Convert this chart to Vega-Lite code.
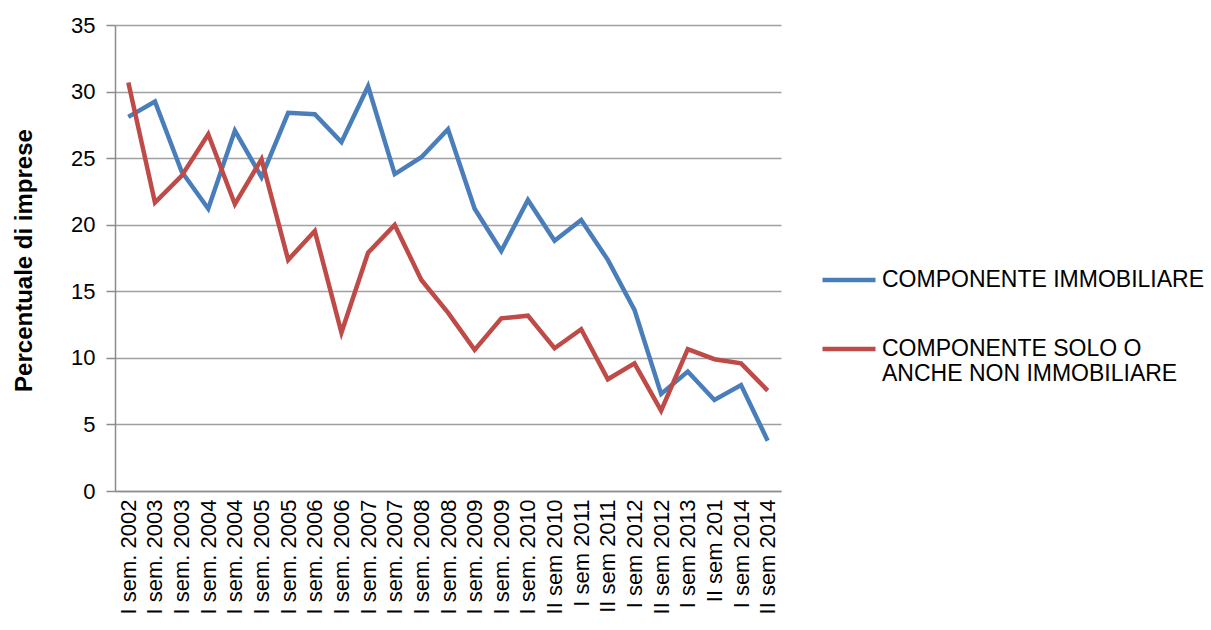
{
  "$schema": "https://vega.github.io/schema/vega-lite/v6.json",
  "width": 666,
  "height": 466,
  "autosize": {"type": "none"},
  "padding": {"left": 115, "top": 25, "right": 430, "bottom": 139},
  "background": "white",
  "config": {
    "font": "Liberation Sans",
    "view": {"stroke": null}
  },
  "data": {
    "values": [
      {"t": 1, "serie": "COMPONENTE IMMOBILIARE", "v": 28.1},
      {"t": 2, "serie": "COMPONENTE IMMOBILIARE", "v": 29.25},
      {"t": 3, "serie": "COMPONENTE IMMOBILIARE", "v": 24.0},
      {"t": 4, "serie": "COMPONENTE IMMOBILIARE", "v": 21.2},
      {"t": 5, "serie": "COMPONENTE IMMOBILIARE", "v": 27.07},
      {"t": 6, "serie": "COMPONENTE IMMOBILIARE", "v": 23.57},
      {"t": 7, "serie": "COMPONENTE IMMOBILIARE", "v": 28.4},
      {"t": 8, "serie": "COMPONENTE IMMOBILIARE", "v": 28.3},
      {"t": 9, "serie": "COMPONENTE IMMOBILIARE", "v": 26.2},
      {"t": 10, "serie": "COMPONENTE IMMOBILIARE", "v": 30.4},
      {"t": 11, "serie": "COMPONENTE IMMOBILIARE", "v": 23.8},
      {"t": 12, "serie": "COMPONENTE IMMOBILIARE", "v": 25.07},
      {"t": 13, "serie": "COMPONENTE IMMOBILIARE", "v": 27.17},
      {"t": 14, "serie": "COMPONENTE IMMOBILIARE", "v": 21.2},
      {"t": 15, "serie": "COMPONENTE IMMOBILIARE", "v": 18.03},
      {"t": 16, "serie": "COMPONENTE IMMOBILIARE", "v": 21.86},
      {"t": 17, "serie": "COMPONENTE IMMOBILIARE", "v": 18.8},
      {"t": 18, "serie": "COMPONENTE IMMOBILIARE", "v": 20.36},
      {"t": 19, "serie": "COMPONENTE IMMOBILIARE", "v": 17.36},
      {"t": 20, "serie": "COMPONENTE IMMOBILIARE", "v": 13.6},
      {"t": 21, "serie": "COMPONENTE IMMOBILIARE", "v": 7.29},
      {"t": 22, "serie": "COMPONENTE IMMOBILIARE", "v": 8.97},
      {"t": 23, "serie": "COMPONENTE IMMOBILIARE", "v": 6.84},
      {"t": 24, "serie": "COMPONENTE IMMOBILIARE", "v": 7.96},
      {"t": 25, "serie": "COMPONENTE IMMOBILIARE", "v": 3.78},
      {"t": 1, "serie": "COMPONENTE SOLO O ANCHE NON IMMOBILIARE", "v": 30.68},
      {"t": 2, "serie": "COMPONENTE SOLO O ANCHE NON IMMOBILIARE", "v": 21.66},
      {"t": 3, "serie": "COMPONENTE SOLO O ANCHE NON IMMOBILIARE", "v": 23.67},
      {"t": 4, "serie": "COMPONENTE SOLO O ANCHE NON IMMOBILIARE", "v": 26.8},
      {"t": 5, "serie": "COMPONENTE SOLO O ANCHE NON IMMOBILIARE", "v": 21.54},
      {"t": 6, "serie": "COMPONENTE SOLO O ANCHE NON IMMOBILIARE", "v": 24.92},
      {"t": 7, "serie": "COMPONENTE SOLO O ANCHE NON IMMOBILIARE", "v": 17.36},
      {"t": 8, "serie": "COMPONENTE SOLO O ANCHE NON IMMOBILIARE", "v": 19.53},
      {"t": 9, "serie": "COMPONENTE SOLO O ANCHE NON IMMOBILIARE", "v": 11.9},
      {"t": 10, "serie": "COMPONENTE SOLO O ANCHE NON IMMOBILIARE", "v": 17.9},
      {"t": 11, "serie": "COMPONENTE SOLO O ANCHE NON IMMOBILIARE", "v": 19.98},
      {"t": 12, "serie": "COMPONENTE SOLO O ANCHE NON IMMOBILIARE", "v": 15.85},
      {"t": 13, "serie": "COMPONENTE SOLO O ANCHE NON IMMOBILIARE", "v": 13.4},
      {"t": 14, "serie": "COMPONENTE SOLO O ANCHE NON IMMOBILIARE", "v": 10.6},
      {"t": 15, "serie": "COMPONENTE SOLO O ANCHE NON IMMOBILIARE", "v": 12.97},
      {"t": 16, "serie": "COMPONENTE SOLO O ANCHE NON IMMOBILIARE", "v": 13.17},
      {"t": 17, "serie": "COMPONENTE SOLO O ANCHE NON IMMOBILIARE", "v": 10.72},
      {"t": 18, "serie": "COMPONENTE SOLO O ANCHE NON IMMOBILIARE", "v": 12.15},
      {"t": 19, "serie": "COMPONENTE SOLO O ANCHE NON IMMOBILIARE", "v": 8.39},
      {"t": 20, "serie": "COMPONENTE SOLO O ANCHE NON IMMOBILIARE", "v": 9.59},
      {"t": 21, "serie": "COMPONENTE SOLO O ANCHE NON IMMOBILIARE", "v": 6.03},
      {"t": 22, "serie": "COMPONENTE SOLO O ANCHE NON IMMOBILIARE", "v": 10.65},
      {"t": 23, "serie": "COMPONENTE SOLO O ANCHE NON IMMOBILIARE", "v": 9.9},
      {"t": 24, "serie": "COMPONENTE SOLO O ANCHE NON IMMOBILIARE", "v": 9.59},
      {"t": 25, "serie": "COMPONENTE SOLO O ANCHE NON IMMOBILIARE", "v": 7.54}
    ]
  },
  "mark": {"type": "line", "strokeWidth": 4.5, "strokeJoin": "miter", "strokeCap": "butt"},
  "encoding": {
    "x": {
      "field": "t",
      "type": "ordinal",
      "scale": {"type": "point", "padding": 0.5},
      "axis": {
        "title": null,
        "labelAngle": -90,
        "labelAlign": "right",
        "labelBaseline": "middle",
        "labelFontSize": 22,
        "labelColor": "black",
        "labelPadding": 8,
        "labelExpr": "['I sem. 2002','I sem. 2003','I sem. 2003','I sem. 2004','I sem. 2004','I sem. 2005','I sem. 2005','I sem. 2006','I sem. 2006','I sem. 2007','I sem. 2007','I sem. 2008','I sem. 2008','I sem. 2009','I sem. 2009','I sem. 2010','II sem 2010','I sem 2011','II sem 2011','I sem 2012','II sem 2012','I sem 2013','II sem 201','I sem 2014','II sem 2014'][datum.value - 1]",
        "domainColor": "#8c8c8c",
        "domainWidth": 1.5,
        "ticks": false,
        "grid": false
      }
    },
    "y": {
      "field": "v",
      "type": "quantitative",
      "scale": {"domain": [0, 35], "nice": false},
      "axis": {
        "values": [0, 5, 10, 15, 20, 25, 30, 35],
        "title": "Percentuale di imprese",
        "titleFontSize": 24,
        "titleFontWeight": "bold",
        "titleColor": "black",
        "titleX": -79,
        "titleY": 235,
        "labelFontSize": 22,
        "labelColor": "black",
        "labelPadding": 11,
        "tickColor": "#8c8c8c",
        "tickSize": 9,
        "tickWidth": 1.5,
        "domainColor": "#8c8c8c",
        "domainWidth": 1.5,
        "gridColor": "#a0a0a0",
        "gridWidth": 1.5
      }
    },
    "color": {
      "field": "serie",
      "type": "nominal",
      "scale": {
        "domain": ["COMPONENTE IMMOBILIARE", "COMPONENTE SOLO O ANCHE NON IMMOBILIARE"],
        "range": ["#4A7EBB", "#BE4B48"]
      },
      "legend": {
        "title": null,
        "orient": "none",
        "legendX": 705,
        "legendY": 226,
        "symbolType": "stroke",
        "symbolSize": 2809,
        "symbolStrokeWidth": 4.5,
        "labelFontSize": 23,
        "labelColor": "black",
        "labelLimit": 400,
        "labelLineHeight": 23,
        "rowPadding": 28,
        "labelOffset": 4,
        "labelExpr": "datum.label == 'COMPONENTE SOLO O ANCHE NON IMMOBILIARE' ? ['COMPONENTE SOLO O', 'ANCHE NON IMMOBILIARE'] : datum.label"
      }
    }
  }
}
